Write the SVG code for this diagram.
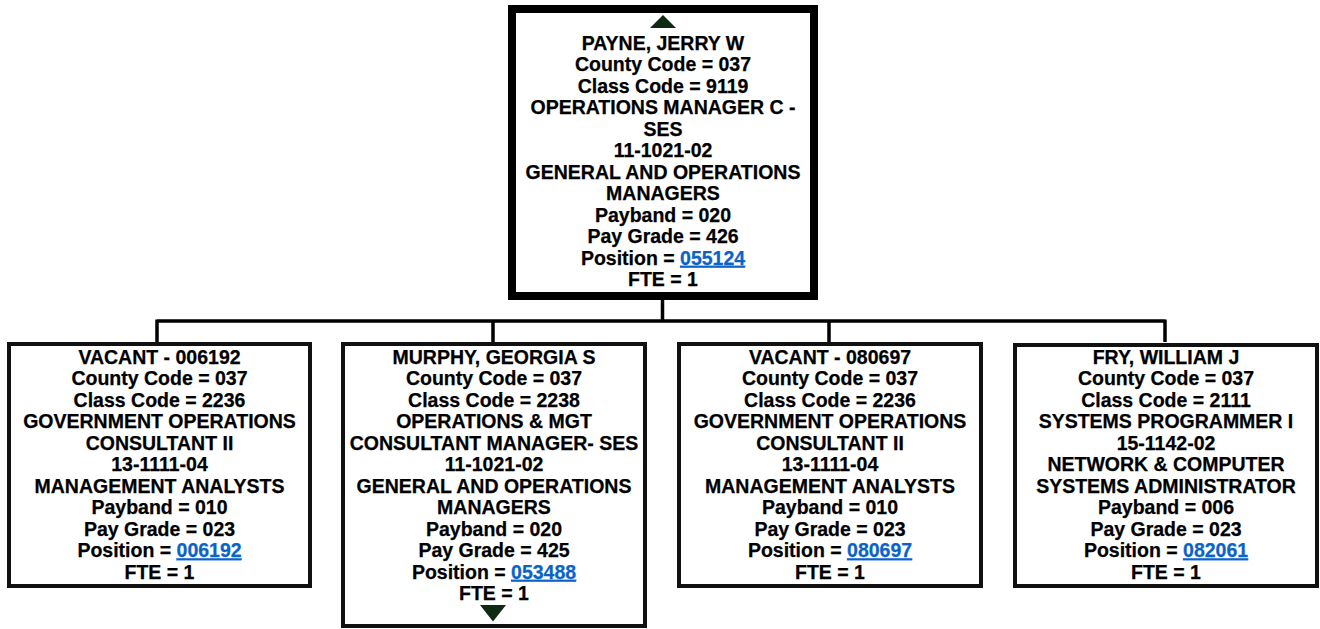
<svg xmlns="http://www.w3.org/2000/svg" width="1320" height="629" viewBox="0 0 1320 629">
  <style>
    .box { fill: #ffffff; stroke: #111111; stroke-width: 4; }
    .root { fill: #ffffff; stroke: #000000; stroke-width: 8; }
    .t { font-family: "Liberation Sans", Arial, sans-serif; font-weight: bold; font-size: 19.5px; fill: #000000; text-anchor: middle; stroke: #000000; stroke-width: 0.25; }
    .lnk { fill: #0a64c8; stroke: #0a64c8; text-decoration: underline; }
    .wire { fill: none; stroke: #000000; stroke-width: 3.5; }
    .tri { fill: #0f2a12; }
  </style>
  <rect width="1320" height="629" fill="#ffffff"/>

  <!-- connectors -->
  <g id="connectors">
    <path class="wire" d="M662.5 300 V321 M157 321 H1165 M157 319.5 V342 M493 319.5 V342 M829 319.5 V342 M1165 319.5 V342"/>
  </g>

  <!-- root -->
  <g id="payne">
    <rect class="root" x="512" y="9" width="302" height="287"/>
    <polygon class="tri" points="650,28 676,28 663,15"/>
    <text class="t" x="663" y="49.8">PAYNE, JERRY W</text>
    <text class="t" x="663" y="71.3">County Code = 037</text>
    <text class="t" x="663" y="92.8">Class Code = 9119</text>
    <text class="t" x="663" y="114.3">OPERATIONS MANAGER C -</text>
    <text class="t" x="663" y="135.8">SES</text>
    <text class="t" x="663" y="157.3">11-1021-02</text>
    <text class="t" x="663" y="178.8">GENERAL AND OPERATIONS</text>
    <text class="t" x="663" y="200.3">MANAGERS</text>
    <text class="t" x="663" y="221.8">Payband = 020</text>
    <text class="t" x="663" y="243.3">Pay Grade = 426</text>
    <text class="t" x="663" y="264.8">Position = <tspan class="lnk">055124</tspan></text>
    <text class="t" x="663" y="286.3">FTE = 1</text>
  </g>

  <g id="vacant-006192">
    <rect class="box" x="9" y="344" width="301" height="242"/>
    <text class="t" x="159.5" y="363.8">VACANT - 006192</text>
    <text class="t" x="159.5" y="385.3">County Code = 037</text>
    <text class="t" x="159.5" y="406.8">Class Code = 2236</text>
    <text class="t" x="159.5" y="428.3">GOVERNMENT OPERATIONS</text>
    <text class="t" x="159.5" y="449.8">CONSULTANT II</text>
    <text class="t" x="159.5" y="471.3">13-1111-04</text>
    <text class="t" x="159.5" y="492.8">MANAGEMENT ANALYSTS</text>
    <text class="t" x="159.5" y="514.3">Payband = 010</text>
    <text class="t" x="159.5" y="535.8">Pay Grade = 023</text>
    <text class="t" x="159.5" y="557.3">Position = <tspan class="lnk">006192</tspan></text>
    <text class="t" x="159.5" y="578.8">FTE = 1</text>
  </g>

  <g id="murphy">
    <rect class="box" x="343" y="344" width="302" height="282"/>
    <text class="t" x="494" y="363.8">MURPHY, GEORGIA S</text>
    <text class="t" x="494" y="385.3">County Code = 037</text>
    <text class="t" x="494" y="406.8">Class Code = 2238</text>
    <text class="t" x="494" y="428.3">OPERATIONS &amp; MGT</text>
    <text class="t" x="494" y="449.8">CONSULTANT MANAGER- SES</text>
    <text class="t" x="494" y="471.3">11-1021-02</text>
    <text class="t" x="494" y="492.8">GENERAL AND OPERATIONS</text>
    <text class="t" x="494" y="514.3">MANAGERS</text>
    <text class="t" x="494" y="535.8">Payband = 020</text>
    <text class="t" x="494" y="557.3">Pay Grade = 425</text>
    <text class="t" x="494" y="578.8">Position = <tspan class="lnk">053488</tspan></text>
    <text class="t" x="494" y="600.3">FTE = 1</text>
    <polygon class="tri" points="480,605 506,605 493,621.5"/>
  </g>

  <g id="vacant-080697">
    <rect class="box" x="679" y="344" width="302" height="242"/>
    <text class="t" x="830" y="363.8">VACANT - 080697</text>
    <text class="t" x="830" y="385.3">County Code = 037</text>
    <text class="t" x="830" y="406.8">Class Code = 2236</text>
    <text class="t" x="830" y="428.3">GOVERNMENT OPERATIONS</text>
    <text class="t" x="830" y="449.8">CONSULTANT II</text>
    <text class="t" x="830" y="471.3">13-1111-04</text>
    <text class="t" x="830" y="492.8">MANAGEMENT ANALYSTS</text>
    <text class="t" x="830" y="514.3">Payband = 010</text>
    <text class="t" x="830" y="535.8">Pay Grade = 023</text>
    <text class="t" x="830" y="557.3">Position = <tspan class="lnk">080697</tspan></text>
    <text class="t" x="830" y="578.8">FTE = 1</text>
  </g>

  <g id="fry">
    <rect class="box" x="1015" y="345" width="302" height="241"/>
    <text class="t" x="1166" y="363.8">FRY, WILLIAM J</text>
    <text class="t" x="1166" y="385.3">County Code = 037</text>
    <text class="t" x="1166" y="406.8">Class Code = 2111</text>
    <text class="t" x="1166" y="428.3">SYSTEMS PROGRAMMER I</text>
    <text class="t" x="1166" y="449.8">15-1142-02</text>
    <text class="t" x="1166" y="471.3">NETWORK &amp; COMPUTER</text>
    <text class="t" x="1166" y="492.8">SYSTEMS ADMINISTRATOR</text>
    <text class="t" x="1166" y="514.3">Payband = 006</text>
    <text class="t" x="1166" y="535.8">Pay Grade = 023</text>
    <text class="t" x="1166" y="557.3">Position = <tspan class="lnk">082061</tspan></text>
    <text class="t" x="1166" y="578.8">FTE = 1</text>
  </g>
</svg>
